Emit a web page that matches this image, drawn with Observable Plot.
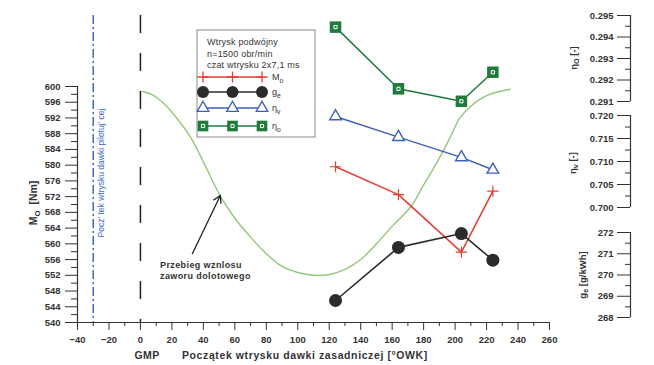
<!DOCTYPE html>
<html><head><meta charset="utf-8">
<script src="https://cdn.jsdelivr.net/npm/d3@7"></script>
<script src="https://cdn.jsdelivr.net/npm/@observablehq/plot@0.6"></script>
<style>
html,body{margin:0;padding:0;background:#fff;}
#chart{width:654px;height:365px;overflow:hidden;}
</style></head><body><div id="chart"></div>
<script>
// ---------------- data ----------------
const injectionTiming = [124, 164, 204, 224];              // °OWK
const torqueMo        = [579.6, 572.5, 557.9, 573.4];      // Nm
const specificFuelGe  = [268.8, 271.3, 271.95, 270.7];     // g/kWh
const volumetricEffV  = [0.7198, 0.7153, 0.7109, 0.7082];  // -
const overallEffO     = [0.29446, 0.29159, 0.29101, 0.29236]; // -

// intake valve lift trace, drawn on the Mo scale (no axis of its own)
const valveLiftX = [1, 8, 15, 23, 32, 41, 51, 60, 70, 80, 89, 100, 110, 120, 130, 140, 150, 160, 172, 180, 186, 193, 198, 203, 210, 216, 222, 229, 235];
const valveLiftY = [598.8, 597.8, 595.6, 592, 587, 580, 572, 566.5, 561.7, 557.5, 554.5, 552.7, 552, 552.2, 553.5, 556, 560, 564.5, 569.5, 575, 579, 584, 588, 592, 595, 596.8, 598, 598.8, 599.3];

const xTicks     = d3.range(-40, 261, 20);
const xMinor     = d3.range(-30, 260, 20);
const moTicks    = d3.range(540, 601, 4);
const moMinor    = d3.range(542, 600, 4);
const etaOTicks  = [0.291, 0.292, 0.293, 0.294, 0.295];
const etaOMinor  = [0.2915, 0.2925, 0.2935, 0.2945];
const etaVTicks  = [0.700, 0.705, 0.710, 0.715, 0.720];
const etaVMinor  = [0.7025, 0.7075, 0.7125, 0.7175];
const geTicks    = [268, 269, 270, 271, 272];
const geMinor    = [268.5, 269.5, 270.5, 271.5];

const pilotStart = [-30];
const gmpLine    = [0];
const arrowNote  = [{x1: 33, y1: 557.5, x2: 50.8, y2: 572.3}];

// ---------------- layout ----------------
const W = 654, H = 365, ML = 77, MR = 105, MT = 15, MB = 43;
const FONT = '"Liberation Sans", Arial, Helvetica, sans-serif';
const moPx = d3.scaleLinear([540, 600], [322, 86]);
const yMax = moPx.invert(MT);
const etaOScale = d3.scaleLinear([0.291, 0.295], [moPx.invert(101), moPx.invert(15)]);
const etaVScale = d3.scaleLinear([0.700, 0.720], [moPx.invert(207), moPx.invert(115)]);
const geScale   = d3.scaleLinear([268, 272], [moPx.invert(317), moPx.invert(232)]);
const rightDx = 630 - ML;

const RED = "#e43c33", BLK = "#2b2b2b", BLUE = "#3d60b6", GRN = "#1f7a3b", LIFT = "#93c77a", AX = "#333";

const rows = injectionTiming.map((x, i) => ({
  x, mo: torqueMo[i], ge: geScale(specificFuelGe[i]),
  ev: etaVScale(volumetricEffV[i]), eo: etaOScale(overallEffO[i])
}));
const lift = valveLiftX.map((x, i) => ({x, y: valveLiftY[i]}));

function rightAxis(scale, majors, minors, fmt) {
  return [
    Plot.ruleX([-40], {y1: scale(majors[0]), y2: scale(majors[majors.length - 1]), dx: rightDx, stroke: AX, strokeWidth: 1.2}),
    Plot.axisY(majors.map(scale), {anchor: "left", dx: rightDx, tickSize: 13, tickPadding: 4, label: null,
      tickFormat: d => fmt(scale.invert(d)), color: AX, fontWeight: "bold", fontSize: 9.5}),
    Plot.axisY(minors.map(scale), {anchor: "left", dx: rightDx, tickSize: 5, label: null, tickFormat: () => "", color: AX})
  ];
}

const plot = Plot.plot({
  width: W, height: H, marginLeft: ML, marginRight: MR, marginTop: MT, marginBottom: MB,
  x: {domain: [-40, 260], label: null},
  y: {domain: [540, yMax], label: null},
  style: {fontFamily: FONT, fontSize: "9.5px", color: AX, background: "#fff", overflow: "visible"},
  marks: [
    // reference lines
    Plot.ruleX(gmpLine, {stroke: "#222", strokeWidth: 1.5, strokeDasharray: "18,20"}),
    Plot.ruleX(pilotStart, {stroke: "#3d6cc4", strokeWidth: 1.5, strokeDasharray: "9,3,2,3"}),
    // axes
    Plot.ruleX([-40], {y1: 540, y2: 600, stroke: AX, strokeWidth: 1.2}),
    Plot.ruleY([540], {x1: -40, x2: 260, stroke: AX, strokeWidth: 1.2}),
    Plot.axisY(moTicks, {anchor: "left", tickSize: 12, tickPadding: 5, label: null, color: AX, fontWeight: "bold", fontSize: 9.5}),
    Plot.axisY(moMinor, {anchor: "left", tickSize: 6, label: null, tickFormat: () => "", color: AX}),
    Plot.axisX(xTicks, {anchor: "bottom", tickSize: 8, tickPadding: 6, label: null, color: AX, fontWeight: "bold", fontSize: 9.5}),
    Plot.axisX(xMinor, {anchor: "bottom", tickSize: 4, label: null, tickFormat: () => "", color: AX}),
    ...rightAxis(etaOScale, etaOTicks, etaOMinor, d3.format(".3f")),
    ...rightAxis(etaVScale, etaVTicks, etaVMinor, d3.format(".3f")),
    ...rightAxis(geScale, geTicks, geMinor, d3.format("d")),
    // valve lift trace + arrow
    Plot.line(lift, {x: "x", y: "y", stroke: LIFT, strokeWidth: 1.4, curve: "catmull-rom"}),
    Plot.arrow(arrowNote, {x1: "x1", y1: "y1", x2: "x2", y2: "y2", stroke: "#222", strokeWidth: 1.3, headLength: 9}),
    // series
    Plot.line(rows, {x: "x", y: "eo", stroke: GRN, strokeWidth: 1.5}),
    Plot.dot(rows, {x: "x", y: "eo", symbol: "square", r: 6.5, fill: GRN, stroke: "none"}),
    Plot.dot(rows, {x: "x", y: "eo", symbol: "square", r: 1.8, fill: "none", stroke: "#fff", strokeWidth: 1}),
    Plot.line(rows, {x: "x", y: "ev", stroke: BLUE, strokeWidth: 1.5}),
    Plot.dot(rows, {x: "x", y: "ev", symbol: "triangle", r: 4.3, fill: "#fff", stroke: BLUE, strokeWidth: 1.4}),
    Plot.line(rows, {x: "x", y: "mo", stroke: RED, strokeWidth: 1.5}),
    Plot.dot(rows, {x: "x", y: "mo", symbol: "plus", r: 3.7, fill: "none", stroke: RED, strokeWidth: 1.2}),
    Plot.line(rows, {x: "x", y: "ge", stroke: BLK, strokeWidth: 1.6}),
    Plot.dot(rows, {x: "x", y: "ge", r: 6.5, fill: BLK, stroke: "none"})
  ]
});
document.getElementById("chart").appendChild(plot);

// ---------------- annotations & legend (overlay) ----------------
const svg = d3.select(plot);
const g = svg.append("g").attr("font-family", FONT);
function addText(x, y, parts, o = {}) {
  const size = o.size || 9;
  const t = g.append("text").attr("x", x).attr("y", y)
    .attr("font-size", size).attr("font-weight", o.weight || "normal").attr("fill", o.fill || AX)
    .attr("text-anchor", o.anchor || "start").attr("dominant-baseline", "central");
  if (o.spacing) t.attr("letter-spacing", o.spacing);
  if (o.rotate) t.attr("transform", `rotate(${o.rotate},${x},${y})`);
  for (const p of [].concat(parts)) {
    if (typeof p === "string") t.append("tspan").text(p);
    else t.append("tspan").attr("baseline-shift", "sub").attr("font-size", size * 0.75).text(p.sub);
  }
  return t;
}
// axis titles
addText(33, 203, ["M", {sub: "O"}, "  [Nm]"], {size: 10.5, weight: "bold", anchor: "middle", rotate: -90});
addText(573, 58, ["η", {sub: "O"}, " [-]"], {size: 9.5, weight: "bold", anchor: "middle", rotate: -90});
addText(572, 163, ["η", {sub: "v"}, " [-]"], {size: 9.5, weight: "bold", anchor: "middle", rotate: -90});
addText(582, 275, ["g", {sub: "e"}, " [g/kWh]"], {size: 9.5, weight: "bold", anchor: "middle", rotate: -90});
addText(147, 355, "GMP", {size: 10.5, weight: "bold", anchor: "middle", spacing: 0.4});
addText(182, 355, "Początek wtrysku dawki zasadniczej [°OWK]", {size: 10.5, weight: "bold", spacing: 0.6});
addText(101, 173, "Pocz’ tek wtrysku dawki pilotuj’ cej", {size: 8.5, fill: "#3d6cc4", anchor: "middle", rotate: -90});
addText(160, 265, "Przebieg wznlosu", {size: 9, weight: "bold", spacing: 0.4});
addText(160, 276, "zaworu dolotowego", {size: 9, weight: "bold", spacing: 0.4});

// legend
const lg = g.append("g");
lg.append("rect").attr("x", 197).attr("y", 30).attr("width", 118).attr("height", 107)
  .attr("fill", "#fff").attr("stroke", "#8a8a8a").attr("stroke-width", 1);
addText(207, 42, "Wtrysk podwójny", {size: 9, spacing: 0.2});
addText(207, 53.5, "n=1500 obr/min", {size: 9, spacing: 0.2});
addText(207, 65, "czat wtrysku 2x7,1 ms", {size: 9, spacing: 0.2});
const items = [
  {y: 77,  color: RED,  sym: d3.symbolPlus,     r: 3.7, fill: "none", stroke: RED,  label: ["M", {sub: "o"}]},
  {y: 92,  color: BLK,  sym: d3.symbolCircle,   r: 6,   fill: BLK,   stroke: "none", label: ["g", {sub: "e"}]},
  {y: 108, color: BLUE, sym: d3.symbolTriangle, r: 4.3, fill: "#fff", stroke: BLUE, label: ["η", {sub: "v"}]},
  {y: 126, color: GRN,  sym: d3.symbolSquare,   r: 6,   fill: GRN,   stroke: "none", label: ["η", {sub: "o"}]}
];
for (const it of items) {
  lg.append("line").attr("x1", 203).attr("x2", 262).attr("y1", it.y).attr("y2", it.y)
    .attr("stroke", it.color).attr("stroke-width", 1.5);
  for (const mx of [203, 232.5, 262]) {
    lg.append("path").attr("d", d3.symbol(it.sym, Math.PI * it.r * it.r)())
      .attr("transform", `translate(${mx},${it.y})`)
      .attr("fill", it.fill).attr("stroke", it.stroke).attr("stroke-width", 1.3);
    if (it.sym === d3.symbolSquare) {
      lg.append("path").attr("d", d3.symbol(d3.symbolSquare, Math.PI * 1.8 * 1.8)())
        .attr("transform", `translate(${mx},${it.y})`).attr("fill", "none").attr("stroke", "#fff");
    }
  }
  addText(272, it.y, it.label, {size: 9});
}
</script></body></html>
